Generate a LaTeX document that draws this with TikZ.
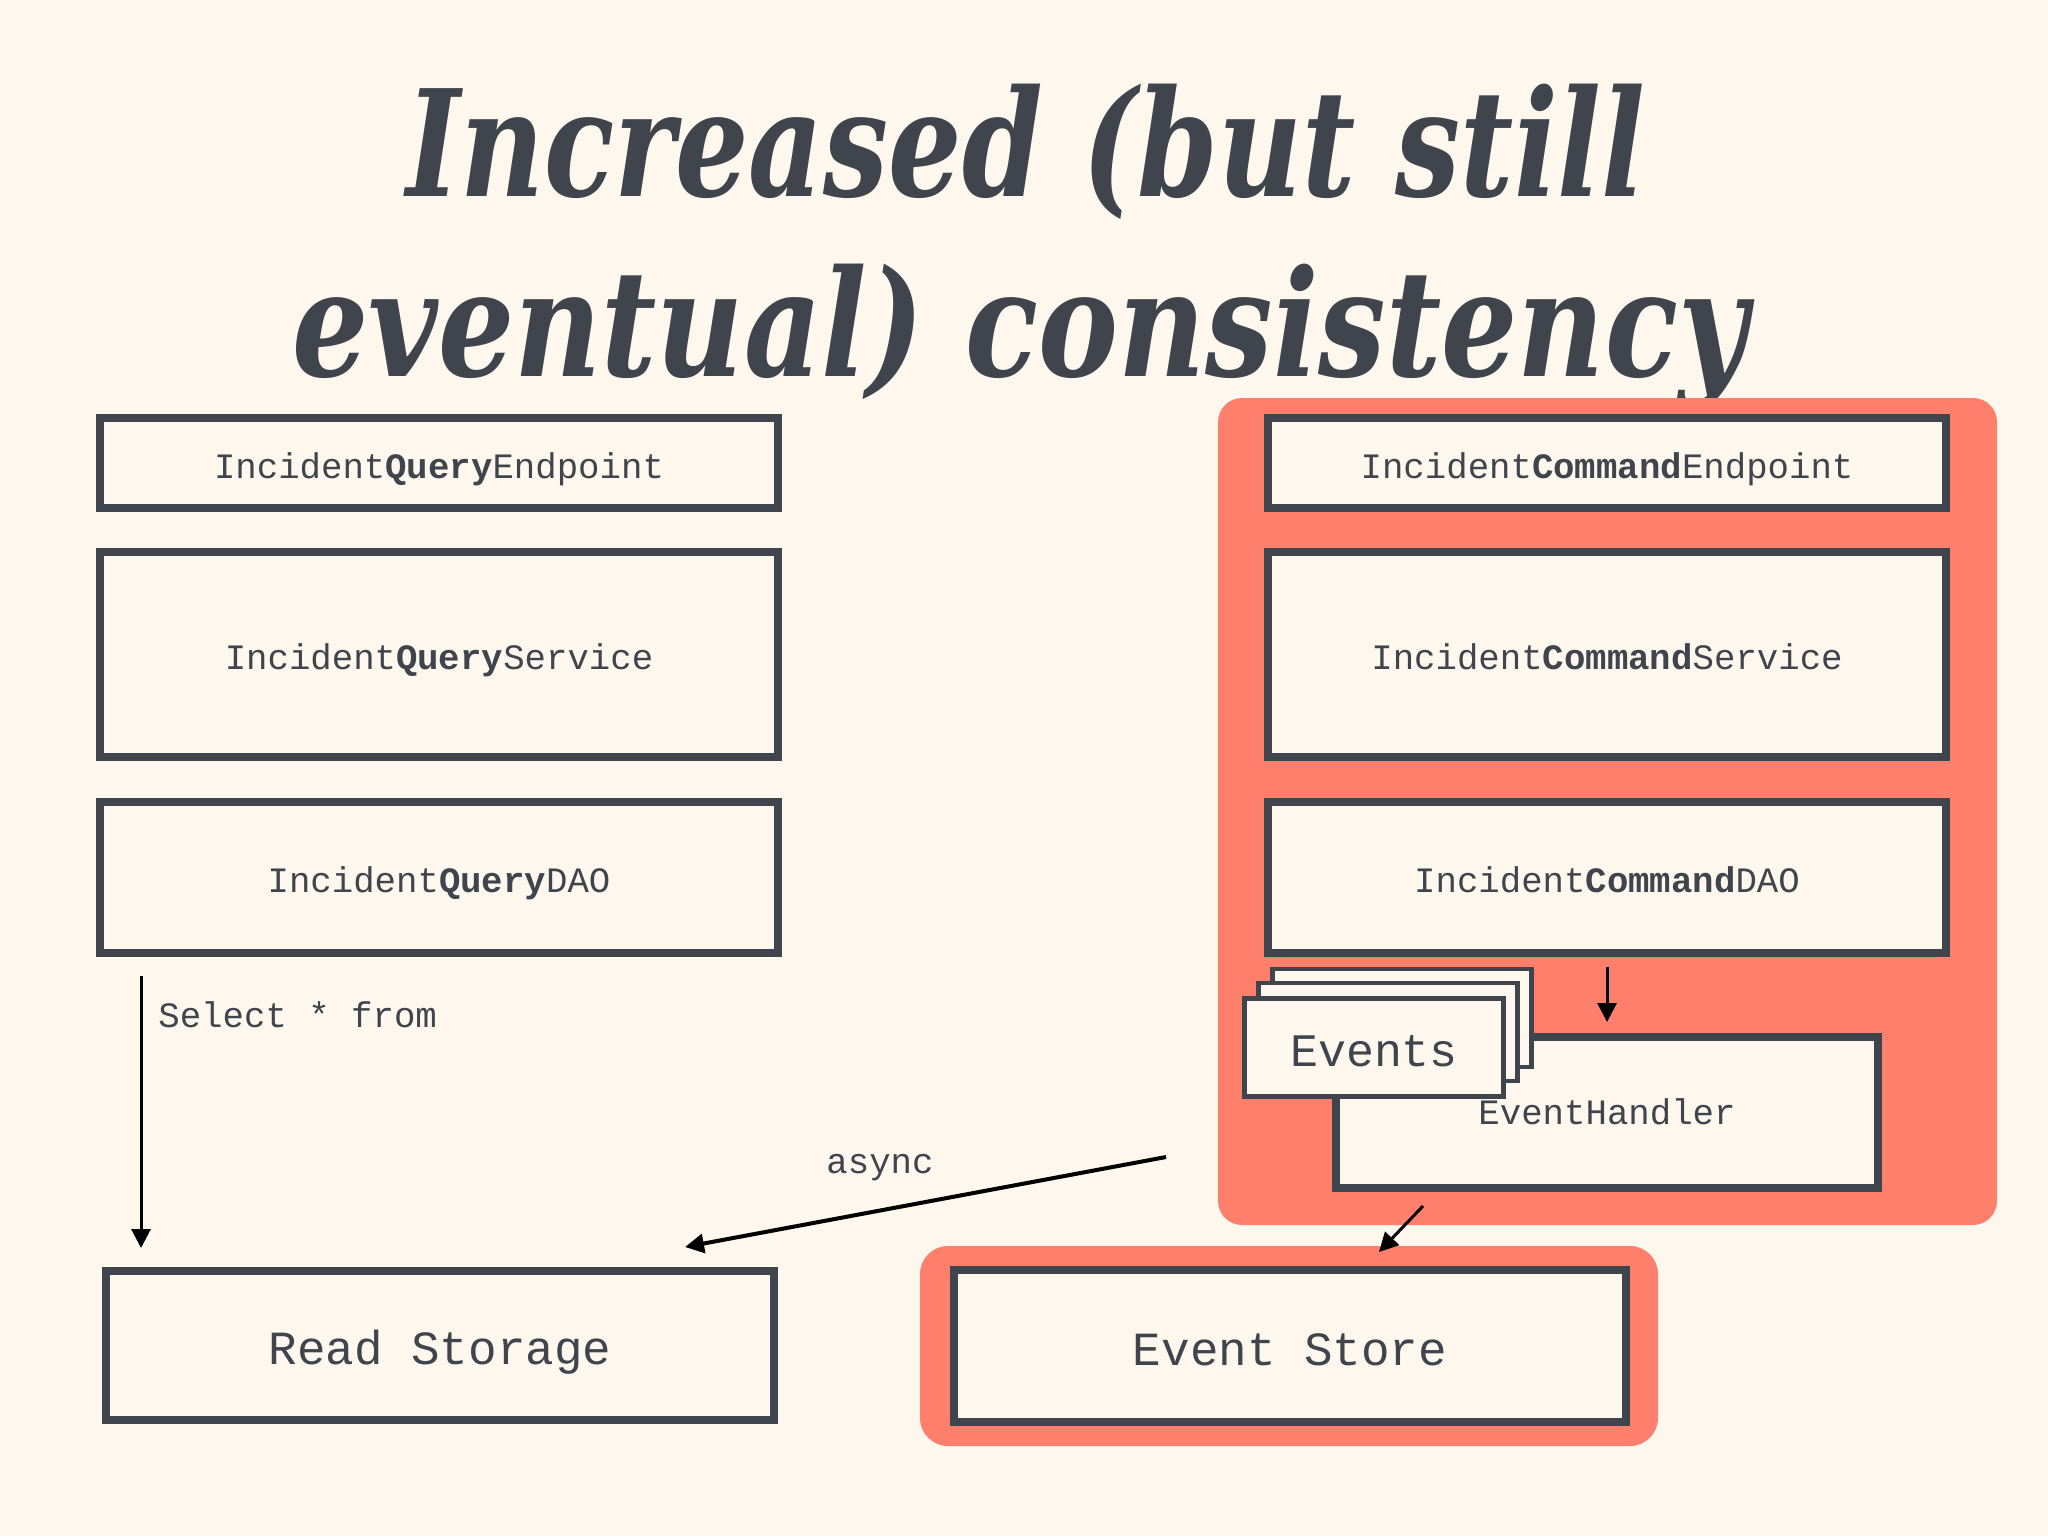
\documentclass[tikz,border=0pt]{standalone}
\usepackage{fontspec}
\usetikzlibrary{arrows.meta}
\setmonofont{Liberation Mono}
\newfontfamily\titlefont{DejaVu Serif}
\definecolor{bgc}{HTML}{FDF7EE}
\definecolor{salmon}{HTML}{FE7F6B}
\definecolor{ink}{HTML}{40444C}
\begin{document}
\begin{tikzpicture}[x=0.5pt,y=-0.5pt,
  box/.style={draw=ink, line width=4pt, fill=bgc, rectangle, inner sep=0pt,
    text=ink, font=\fontsize{17.85pt}{20pt}\ttfamily, text height=15pt, text depth=0pt},
  bigbox/.style={box, font=\fontsize{23.8pt}{26pt}\ttfamily, text height=19pt},
  card/.style={draw=ink, line width=2.25pt, fill=bgc, rectangle, inner sep=0pt,
    minimum width=129.5pt, minimum height=49pt},
  arr/.style={-{Triangle[length=9.5pt,width=9.5pt]}, line width=1.5pt, black},
  lbl/.style={inner sep=0pt, text=ink, font=\fontsize{17.85pt}{20pt}\ttfamily},
  ttl/.style={inner sep=0pt, text=ink, font=\fontsize{74pt}{80pt}\titlefont\bfseries\itshape},
  halo/.style={fill=salmon, draw=none, rectangle, inner sep=0pt}
]
\useasboundingbox (0,0) rectangle (2048,1536);
\fill[bgc] (0,0) rectangle (2048,1536);

% title
\node[ttl, anchor=base] (t1) at (1026,196) {\scalebox{0.78}[1]{Increased (but still}};
\node[ttl, anchor=base] (t2) at (1020,376) {\scalebox{0.81}[1]{eventual) consistency}};

% salmon highlights
\node[halo, rounded corners=12pt, minimum width=389.5pt, minimum height=413.5pt] (cmdbg) at (1607.5,811.5) {};
\node[halo, rounded corners=14pt, minimum width=369pt, minimum height=100pt] (storebg) at (1289,1346) {};

% left column
\node[box, minimum width=339pt, minimum height=45pt] (qend) at (439,463) {Incident\textbf{Query}Endpoint};
\node[box, minimum width=339pt, minimum height=102.5pt] (qsvc) at (439,654.5) {Incident\textbf{Query}Service};
\node[box, minimum width=339pt, minimum height=75.5pt] (qdao) at (439,877.5) {Incident\textbf{Query}DAO};
\node[bigbox, minimum width=334pt, minimum height=74.5pt] (read) at (440,1345.5) {Read Storage};

% right column
\node[box, minimum width=339pt, minimum height=45pt] (cend) at (1607,463) {Incident\textbf{Command}Endpoint};
\node[box, minimum width=339pt, minimum height=102.5pt] (csvc) at (1607,654.5) {Incident\textbf{Command}Service};
\node[box, minimum width=339pt, minimum height=75.5pt] (cdao) at (1607,877.5) {Incident\textbf{Command}DAO};
\node[box, minimum width=271pt, minimum height=75.5pt, text height=11.5pt] (eh) at (1607,1112.5) {EventHandler};
\node[bigbox, minimum width=336pt, minimum height=76pt] (store) at (1290,1346) {Event Store};

% events stack
\node[card] (ev3) at (1402,1018) {};
\node[card] (ev2) at (1388,1032) {};
\node[card, text=ink, font=\fontsize{23.3pt}{26pt}\ttfamily, text height=18.5pt, text depth=0pt] (ev1) at (1374,1047.5) {Events};

% connectors
\draw[arr, shorten <=5pt, shorten >=5.5pt] (cdao) -- (eh);

\coordinate (ehout) at (1423,1206);
\coordinate (storein) at (1379,1252);
\draw[arr] (ehout) -- (storein);

\coordinate (asyncout) at (1166,1157);
\coordinate (readin) at (685,1247);
\draw[arr, line width=2pt] (asyncout) -- (readin);
\node[lbl, anchor=base west] (asynclbl) at (826,1173) {async};

\coordinate (daoout) at (141,976);
\coordinate (readtop) at (141,1248);
\draw[arr] (daoout) -- (readtop);
\node[lbl, anchor=base west] (sellbl) at (158,1027) {Select * from};
\end{tikzpicture}
\end{document}
